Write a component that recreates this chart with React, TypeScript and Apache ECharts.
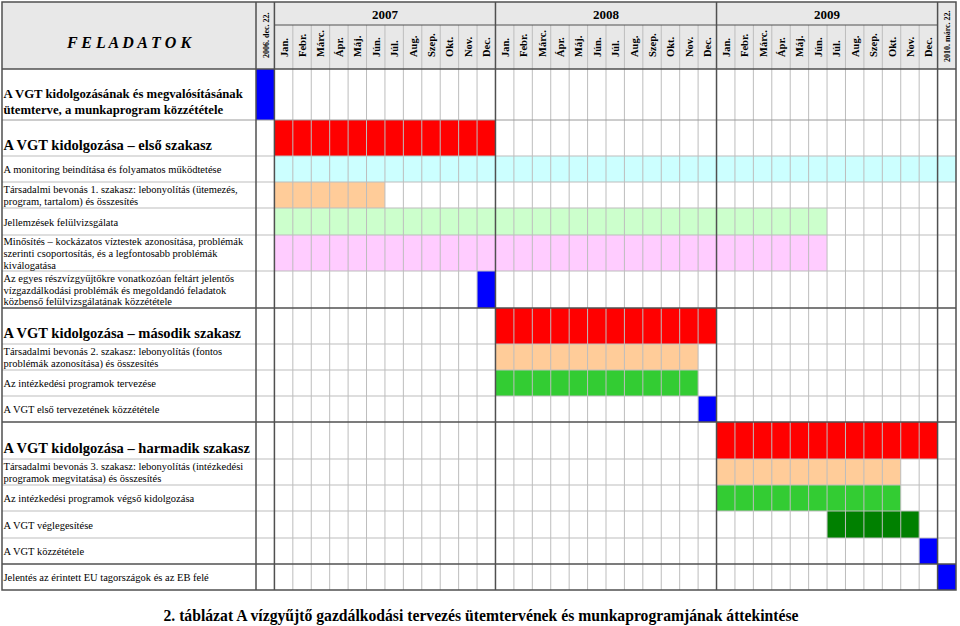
import React, { useEffect, useRef } from "react";
import * as echarts from "echarts";

// ---------- data ----------
const years = ["2007", "2008", "2009"];
const months = ["Jan.", "Febr.", "Márc.", "Ápr.", "Máj.", "Jún.", "Júl.", "Aug.", "Szep.", "Okt.", "Nov.", "Dec."];
const firstDateLabel = "2006. dec. 22.";
const lastDateLabel = "2010. márc. 22.";
const headerTitle = "F E L A D A T O K";
const caption = "2. táblázat A vízgyűjtő gazdálkodási tervezés ütemtervének és munkaprogramjának áttekintése";

const tasks = [
  "A VGT kidolgozásának és megvalósításának\nütemterve, a munkaprogram közzététele",
  "A VGT kidolgozása – első szakasz",
  "A monitoring beindítása és folyamatos működtetése",
  "Társadalmi bevonás 1. szakasz: lebonyolítás (ütemezés,\nprogram, tartalom) és összesítés",
  "Jellemzések felülvizsgálata",
  "Minősítés – kockázatos víztestek azonosítása, problémák\nszerinti csoportosítás, és a legfontosabb problémák\nkiválogatása",
  "Az egyes részvízgyűjtőkre vonatkozóan feltárt jelentős\nvízgazdálkodási problémák és megoldandó feladatok\nközbenső felülvizsgálatának közzététele",
  "A VGT kidolgozása – második szakasz",
  "Társadalmi bevonás 2. szakasz: lebonyolítás (fontos\nproblémák azonosítása) és összesítés",
  "Az intézkedési programok tervezése",
  "A VGT első tervezetének közzététele",
  "A VGT kidolgozása – harmadik szakasz",
  "Társadalmi bevonás 3. szakasz: lebonyolítás (intézkedési\nprogramok megvitatása) és összesítés",
  "Az intézkedési programok végső kidolgozása",
  "A VGT véglegesítése",
  "A VGT közzététele",
  "Jelentés az érintett EU tagországok és az EB felé",
];
// kind of row: 0 = bold intro, 1 = phase heading, 2 = normal
const taskKind = [0, 1, 2, 2, 2, 2, 2, 1, 2, 2, 2, 1, 2, 2, 2, 2, 2];

// column index: 0 = 2006 dec 22, 1..36 = months 2007-2009, 37 = 2010 márc 22
const barStart = [0, 1, 1, 1, 1, 1, 12, 13, 13, 13, 24, 25, 25, 25, 31, 36, 37];
const barEnd = [1, 13, 38, 7, 31, 31, 13, 25, 24, 24, 25, 37, 35, 35, 36, 37, 38];
const barColor = [
  "#0000FF", "#FF0000", "#CCFFFF", "#FFCC99", "#CCFFCC", "#FFCCFF", "#0000FF",
  "#FF0000", "#FFCC99", "#33CC33", "#0000FF",
  "#FF0000", "#FFCC99", "#33CC33", "#008000", "#0000FF", "#0000FF",
];

// ---------- layout ----------
const W = 960;
const H = 626;
const TL = 2; // table left
const TASK_R = 256;
const TR = 956;
const HT = 2; // header top
const YEAR_B = 25;
const HB = 69; // header bottom
const rowHeights = [51, 36, 26, 26, 27, 36, 37, 36, 26, 26, 26, 37, 26, 26, 27, 26, 26];
const NCOL = 38;
const TOTAL_H = rowHeights.reduce((a, b) => a + b, 0);
const TB = HB + TOTAL_H;
const rowTops: number[] = [];
{
  let acc = 0;
  for (const h of rowHeights) {
    rowTops.push(acc);
    acc += h;
  }
}
const colW = (TR - TASK_R) / NCOL;
const px = (c: number) => TASK_R + c * colW;
const py = (v: number) => HB + v;

const FONT = "'Liberation Serif', 'Times New Roman', serif";
const DARK = "#505050";
const GRAY = "#bdbdbd";

function buildGraphics() {
  const g: any[] = [];
  // header background
  g.push({ type: "rect", z: 1, shape: { x: TL, y: HT, width: TR - TL, height: HB - HT }, style: { fill: "#E8E8E8" } });

  // vertical month lines (gray)
  for (let c = 1; c < NCOL; c++) {
    const isYear = c === 1 || c === 13 || c === 25 || c === 37;
    if (isYear) continue;
    g.push({ type: "line", z: 50, shape: { x1: px(c), y1: YEAR_B, x2: px(c), y2: TB }, style: { stroke: GRAY, lineWidth: 1 } });
  }
  // horizontal row lines
  for (let r = 1; r < rowHeights.length; r++) {
    const y = py(rowTops[r]);
    const dark = r === 7 || r === 11 || r === 16;
    g.push({
      type: "line", z: dark ? 60 : 50,
      shape: { x1: TL, y1: y, x2: TR, y2: y },
      style: { stroke: dark ? DARK : r === 1 ? "#9a9a9a" : GRAY, lineWidth: dark ? 1.5 : 1 },
    });
  }
  // year row bottom line
  g.push({ type: "line", z: 60, shape: { x1: px(1), y1: YEAR_B, x2: px(37), y2: YEAR_B }, style: { stroke: DARK, lineWidth: 1.2 } });
  // header bottom
  g.push({ type: "line", z: 60, shape: { x1: TL, y1: HB, x2: TR, y2: HB }, style: { stroke: DARK, lineWidth: 1.5 } });
  // dark vertical lines
  for (const c of [0, 1, 13, 25, 37]) {
    g.push({ type: "line", z: 60, shape: { x1: px(c), y1: HT, x2: px(c), y2: TB }, style: { stroke: DARK, lineWidth: 1.5 } });
  }
  // outer border
  g.push({ type: "rect", z: 61, shape: { x: TL, y: HT, width: TR - TL, height: TB - HT }, style: { fill: "none", stroke: DARK, lineWidth: 1.5 } });

  // header texts
  g.push({
    type: "text", z: 70, x: (TL + TASK_R) / 2, y: 42,
    style: { text: headerTitle, font: `italic bold 16px ${FONT}`, fill: "#000", align: "center", verticalAlign: "middle" },
  });
  years.forEach((yr, i) => {
    g.push({
      type: "text", z: 70, x: (px(1 + i * 12) + px(13 + i * 12)) / 2, y: 14,
      style: { text: yr, font: `bold 13px ${FONT}`, fill: "#000", align: "center", verticalAlign: "middle" },
    });
    months.forEach((m, j) => {
      const c = 1 + i * 12 + j;
      g.push({
        type: "text", z: 70, x: (px(c) + px(c + 1)) / 2 + 0.5, y: 57, rotation: Math.PI / 2,
        style: { text: m, font: `bold 10.5px ${FONT}`, fill: "#000", align: "left", verticalAlign: "middle" },
      });
    });
  });
  g.push({
    type: "text", z: 70, x: (px(0) + px(1)) / 2 + 1, y: 58, rotation: Math.PI / 2,
    style: { text: firstDateLabel, font: `bold 8px ${FONT}`, fill: "#000", align: "left", verticalAlign: "middle" },
  });
  g.push({
    type: "text", z: 70, x: (px(37) + px(38)) / 2 + 1, y: 62, rotation: Math.PI / 2,
    style: { text: lastDateLabel, font: `bold 8px ${FONT}`, fill: "#000", align: "left", verticalAlign: "middle" },
  });

  // task texts
  tasks.forEach((t, r) => {
    const top = py(rowTops[r]);
    const h = rowHeights[r];
    const kind = taskKind[r];
    let y = top + h / 2;
    let font = `11px ${FONT}`;
    let lh = 11.7;
    let sx = 0.955;
    if (kind === 0) {
      y = top + h / 2 + 7;
      font = `bold 13px ${FONT}`;
      lh = 16;
      sx = 0.98;
    } else if (kind === 1) {
      y = top + h - 11;
      font = `bold 14.5px ${FONT}`;
      lh = 16;
      sx = 1;
    }
    g.push({
      type: "text", z: 70, x: TL + 1.5, y, scaleX: sx,
      style: { text: t, font, fill: "#000", align: "left", verticalAlign: "middle", lineHeight: lh },
    });
  });

  // caption
  g.push({
    type: "text", z: 70, x: 481, y: 615, scaleX: 0.98,
    style: { text: caption, font: `bold 16px ${FONT}`, fill: "#000", align: "center", verticalAlign: "middle" },
  });
  return g;
}

export default function App() {
  const ref = useRef<HTMLDivElement>(null);
  useEffect(() => {
    if (!ref.current) return;
    const chart = echarts.init(ref.current, undefined, { renderer: "svg" });
    const barData = tasks.map((_, r) => ({
      value: [barStart[r], barEnd[r], rowTops[r], rowTops[r] + rowHeights[r]],
      itemStyle: { color: barColor[r] },
    }));
    chart.setOption({
      animation: false,
      backgroundColor: "#fff",
      grid: { left: TASK_R, right: W - TR, top: HB, bottom: H - TB, containLabel: false },
      xAxis: { type: "value", min: 0, max: NCOL, show: false },
      yAxis: { type: "value", min: 0, max: TOTAL_H, inverse: true, show: false },
      series: [
        {
          type: "custom",
          z: 5,
          encode: { x: [0, 1], y: [2, 3] },
          renderItem: (params: any, api: any) => {
            const p1 = api.coord([api.value(0), api.value(2)]);
            const p2 = api.coord([api.value(1), api.value(3)]);
            return {
              type: "rect",
              shape: { x: p1[0], y: p1[1], width: p2[0] - p1[0], height: p2[1] - p1[1] },
              style: { fill: api.visual("color") },
            };
          },
          data: barData,
        },
      ],
      graphic: { elements: buildGraphics() },
    });
    return () => chart.dispose();
  }, []);
  return <div ref={ref} style={{ position: "fixed", left: 0, top: 0, width: W, height: H, background: "#fff" }} />;
}
